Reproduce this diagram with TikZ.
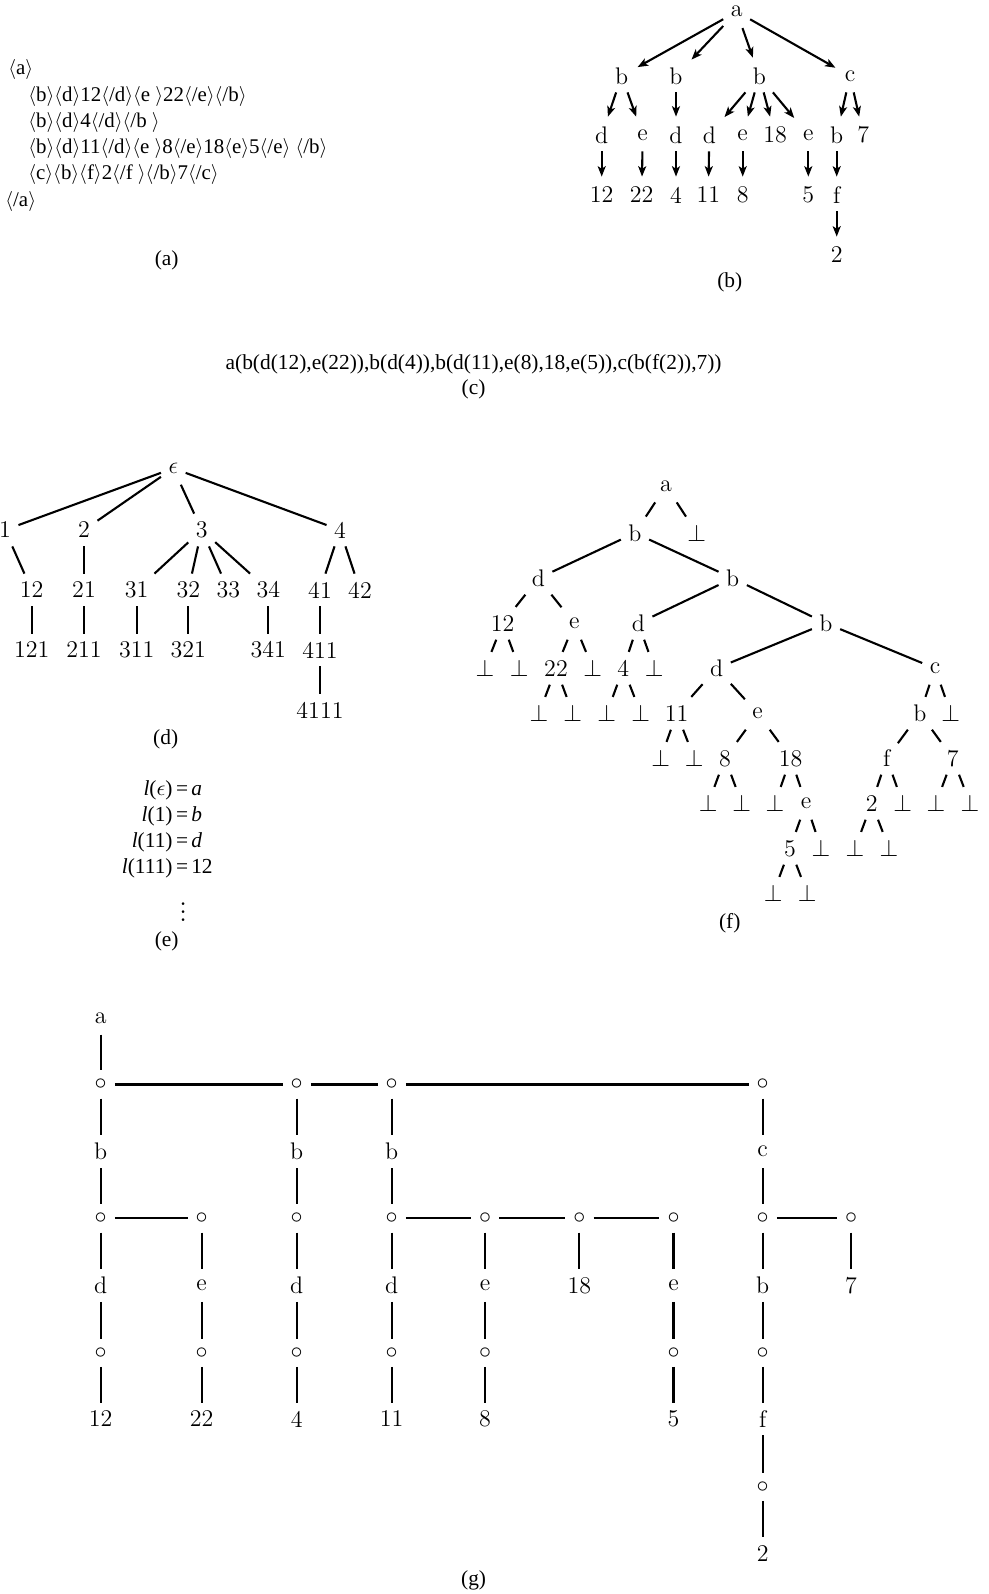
\documentclass[tikz,border=0pt]{standalone}
\usepackage{fontspec}
\newfontfamily\tms{Liberation Serif}
\usetikzlibrary{arrows.meta}
\newcommand{\lA}{$\langle$}
\newcommand{\rA}{$\rangle$}
\tikzset{
  tn/.style={font=\fontsize{12}{14}\selectfont, inner xsep=3.6pt, inner ysep=0pt, minimum height=16pt},
  cn/.style={font=\fontsize{12}{14}\selectfont, inner sep=0pt, minimum size=13.8pt},
  tx/.style={font=\tms\fontsize{10.7}{13}\selectfont, inner sep=0pt},
  ta/.style={font=\tms\fontsize{10.45}{13}\selectfont, inner sep=0pt},
  edge/.style={line width=1.05pt},
  arr/.style={line width=1.05pt, -{Stealth[length=5.2pt,width=4pt,inset=1.3pt]}, shorten >=1pt}
}
\begin{document}
\begin{tikzpicture}[x=0.5pt,y=-0.5pt]
\useasboundingbox (0,0) rectangle (989,1594);

% ---------------- (a)
\node[ta, anchor=west] (A1) at (8,70) {\lA a\rA};
\node[ta, anchor=west] (A2) at (28,96.7) {\lA b\rA\lA d\rA 12\lA /d\rA\lA e \rA 22\lA /e\rA\lA /b\rA};
\node[ta, anchor=west] (A3) at (28,122.5) {\lA b\rA\lA d\rA 4\lA /d\rA\lA /b \rA};
\node[ta, anchor=west] (A4) at (28,148.5) {\lA b\rA\lA d\rA 11\lA /d\rA\lA e \rA 8\lA /e\rA 18\lA e\rA 5\lA /e\rA{} \lA /b\rA};
\node[ta, anchor=west] (A5) at (28,175) {\lA c\rA\lA b\rA\lA f\rA 2\lA /f \rA\lA /b\rA 7\lA /c\rA};
\node[ta, anchor=west] (A6) at (5,201.7) {\lA /a\rA};
\node[tx] (capA) at (166.7,260) {(a)};

% ---------------- (b)
\node[tn] (Ba) at (736.7,11.7) {a};
\node[tn] (Bb1) at (621.7,76) {b};
\node[tn] (Bb2) at (676,76) {b};
\node[tn] (Bb3) at (759.3,76) {b};
\node[tn] (Bc) at (850,76) {c};
\node[tn] (Bd1) at (601.7,135) {d};
\node[tn] (Be1) at (642.7,135) {e};
\node[tn] (Bd2) at (676,135) {d};
\node[tn] (Bd3) at (709.3,135) {d};
\node[tn] (Be2) at (742.7,135) {e};
\node[tn] (B18) at (775,135) {18};
\node[tn] (Be3) at (808.3,135) {e};
\node[tn] (Bb4) at (836.7,135) {b};
\node[tn] (B7) at (863.3,135) {7};
\node[tn] (B12) at (601.7,195) {12};
\node[tn] (B22) at (641.7,195) {22};
\node[tn] (B4) at (676,195) {4};
\node[tn] (B11) at (708.3,195) {11};
\node[tn] (B8) at (742.7,195) {8};
\node[tn] (B5) at (808.3,195) {5};
\node[tn] (Bf) at (836.7,195) {f};
\node[tn] (B2) at (836.7,255) {2};
\foreach \p/\c in {Ba/Bb1,Ba/Bb2,Ba/Bb3,Ba/Bc,Bb1/Bd1,Bb1/Be1,Bb2/Bd2,Bb3/Bd3,Bb3/Be2,Bb3/B18,Bb3/Be3,Bc/Bb4,Bc/B7,Bd1/B12,Be1/B22,Bd2/B4,Bd3/B11,Be2/B8,Be3/B5,Bb4/Bf,Bf/B2}
  \draw[arr] (\p) -- (\c);
\node[tx] (capB) at (729.8,282.6) {(b)};

% ---------------- (c)
\node[tx] (C) at (473.6,363.9) {a(b(d(12),e(22)),b(d(4)),b(d(11),e(8),18,e(5)),c(b(f(2)),7))};
\node[tx] (capC) at (473.6,389.3) {(c)};

% ---------------- (d)
\node[tn] (Deps) at (173.3,468.3) {$\epsilon$};
\node[tn] (D1) at (5,530) {1};
\node[tn] (D2) at (84,530) {2};
\node[tn] (D3) at (201.7,530) {3};
\node[tn] (D4) at (340,530) {4};
\node[tn] (D12) at (31.7,590) {12};
\node[tn] (D21) at (84,590) {21};
\node[tn] (D31) at (136.7,590) {31};
\node[tn] (D32) at (188.3,590) {32};
\node[tn] (D33) at (228.3,590) {33};
\node[tn] (D34) at (268.3,590) {34};
\node[tn] (D41) at (320,590) {41};
\node[tn] (D42) at (360,590) {42};
\node[tn] (D121) at (31.7,650) {121};
\node[tn] (D211) at (84,650) {211};
\node[tn] (D311) at (136.7,650) {311};
\node[tn] (D321) at (188.3,650) {321};
\node[tn] (D341) at (268.3,650) {341};
\node[tn] (D411) at (320,650) {411};
\node[tn] (D4111) at (320,710) {4111};
\foreach \p/\c in {Deps/D1,Deps/D2,Deps/D3,Deps/D4,D1/D12,D2/D21,D3/D31,D3/D32,D3/D33,D3/D34,D4/D41,D4/D42,D12/D121,D21/D211,D31/D311,D32/D321,D34/D341,D41/D411,D411/D4111}
  \draw[edge] (\p) -- (\c);
\node[tx] (capD) at (165.7,739) {(d)};

% ---------------- (e)
\node[tx, anchor=base east] (E1l) at (173,795) {\textit{l}($\epsilon$)};
\node[tx, anchor=base west] (E1r) at (175.8,795) {=\hspace{1.5pt}\textit{a}};
\node[tx, anchor=base east] (E2l) at (173,821) {\textit{l}(1)};
\node[tx, anchor=base west] (E2r) at (175.8,821) {=\hspace{1.5pt}\textit{b}};
\node[tx, anchor=base east] (E3l) at (173,847) {\textit{l}(11)};
\node[tx, anchor=base west] (E3r) at (175.8,847) {=\hspace{1.5pt}\textit{d}};
\node[tx, anchor=base east] (E4l) at (173,873) {\textit{l}(111)};
\node[tx, anchor=base west] (E4r) at (175.8,873) {=\hspace{1.5pt}12};
\node[tx, font=\fontsize{14}{16}\selectfont] (Edots) at (183.3,906) {$\vdots$};
\node[tx] (capE) at (166.7,941.7) {(e)};

% ---------------- (f)
\node[tn] (Fa) at (666,486) {a};
\node[tn] (Fb1) at (635,533) {b};
\node[tn] (Fx1) at (696.7,533) {$\bot$};
\node[tn] (Fd1) at (538.3,578.3) {d};
\node[tn] (Fb2) at (732.7,578.3) {b};
\node[tn] (F12) at (502.7,623.3) {12};
\node[tn] (Fe1) at (574.3,623.3) {e};
\node[tn] (Fd2) at (638.3,623.3) {d};
\node[tn] (Fb3) at (826,623.3) {b};
\node[tn] (Fx2) at (485,668.3) {$\bot$};
\node[tn] (Fx3) at (519.3,668.3) {$\bot$};
\node[tn] (F22) at (556,668.3) {22};
\node[tn] (Fx4) at (592.7,668.3) {$\bot$};
\node[tn] (F4) at (623.3,668.3) {4};
\node[tn] (Fx5) at (654.3,668.3) {$\bot$};
\node[tn] (Fd3) at (716.7,668.3) {d};
\node[tn] (Fc) at (935,668.3) {c};
\node[tn] (Fx6) at (539,713.3) {$\bot$};
\node[tn] (Fx7) at (572.7,713.3) {$\bot$};
\node[tn] (Fx8) at (606.7,713.3) {$\bot$};
\node[tn] (Fx9) at (640.7,713.3) {$\bot$};
\node[tn] (F11) at (676.7,713.3) {11};
\node[tn] (Fe2) at (757.7,713.3) {e};
\node[tn] (Fb4) at (920,713.3) {b};
\node[tn] (Fx10) at (950.7,713.3) {$\bot$};
\node[tn] (Fx11) at (660.7,758.3) {$\bot$};
\node[tn] (Fx12) at (694.3,758.3) {$\bot$};
\node[tn] (F8) at (725,758.3) {8};
\node[tn] (F18) at (790.7,758.3) {18};
\node[tn] (Ff) at (886.7,758.3) {f};
\node[tn] (F7) at (952.7,758.3) {7};
\node[tn] (Fx13) at (708.3,803.3) {$\bot$};
\node[tn] (Fx14) at (741.7,803.3) {$\bot$};
\node[tn] (Fx15) at (775,803.3) {$\bot$};
\node[tn] (Fe3) at (806,803.3) {e};
\node[tn] (F2) at (871.7,803.3) {2};
\node[tn] (Fx16) at (902.7,803.3) {$\bot$};
\node[tn] (Fx17) at (936,803.3) {$\bot$};
\node[tn] (Fx18) at (970,803.3) {$\bot$};
\node[tn] (F5) at (790,848.3) {5};
\node[tn] (Fx19) at (821,848.3) {$\bot$};
\node[tn] (Fx20) at (855,848.3) {$\bot$};
\node[tn] (Fx21) at (889,848.3) {$\bot$};
\node[tn] (Fx22) at (773.3,893.3) {$\bot$};
\node[tn] (Fx23) at (807.3,893.3) {$\bot$};
\foreach \p/\c in {Fa/Fb1,Fa/Fx1,Fb1/Fd1,Fb1/Fb2,Fd1/F12,Fd1/Fe1,F12/Fx2,F12/Fx3,Fe1/F22,Fe1/Fx4,F22/Fx6,F22/Fx7,Fb2/Fd2,Fb2/Fb3,Fd2/F4,Fd2/Fx5,F4/Fx8,F4/Fx9,Fb3/Fd3,Fb3/Fc,Fd3/F11,Fd3/Fe2,F11/Fx11,F11/Fx12,Fe2/F8,Fe2/F18,F8/Fx13,F8/Fx14,F18/Fx15,F18/Fe3,Fe3/F5,Fe3/Fx19,F5/Fx22,F5/Fx23,Fc/Fb4,Fc/Fx10,Fb4/Ff,Fb4/F7,Ff/F2,Ff/Fx16,F2/Fx20,F2/Fx21,F7/Fx17,F7/Fx18}
  \draw[edge] (\p) -- (\c);
\node[tx] (capF) at (729.8,923) {(f)};

% ---------------- (g)
% column 1
\node[tn] (G10) at (100.7,1018.3) {a};
\node[cn] (G11) at (100.7,1084.5) {$\circ$};
\node[tn] (G12) at (100.7,1151.7) {b};
\node[cn] (G13) at (100.7,1218.3) {$\circ$};
\node[tn] (G14) at (100.7,1285.5) {d};
\node[cn] (G15) at (100.7,1352.7) {$\circ$};
\node[tn] (G16) at (100.7,1419) {12};
% column 2
\node[cn] (G23) at (201.7,1218.3) {$\circ$};
\node[tn] (G24) at (201.7,1285.5) {e};
\node[cn] (G25) at (201.7,1352.7) {$\circ$};
\node[tn] (G26) at (201.7,1419) {22};
% column 3
\node[cn] (G31) at (296.7,1084.5) {$\circ$};
\node[tn] (G32) at (296.7,1151.7) {b};
\node[cn] (G33) at (296.7,1218.3) {$\circ$};
\node[tn] (G34) at (296.7,1285.5) {d};
\node[cn] (G35) at (296.7,1352.7) {$\circ$};
\node[tn] (G36) at (296.7,1419) {4};
% column 4
\node[cn] (G41) at (391.7,1084.5) {$\circ$};
\node[tn] (G42) at (391.7,1151.7) {b};
\node[cn] (G43) at (391.7,1218.3) {$\circ$};
\node[tn] (G44) at (391.7,1285.5) {d};
\node[cn] (G45) at (391.7,1352.7) {$\circ$};
\node[tn] (G46) at (391.7,1419) {11};
% column 5
\node[cn] (G53) at (485,1218.3) {$\circ$};
\node[tn] (G54) at (485,1285.5) {e};
\node[cn] (G55) at (485,1352.7) {$\circ$};
\node[tn] (G56) at (485,1419) {8};
% column 6
\node[cn] (G63) at (579.3,1218.3) {$\circ$};
\node[tn] (G64) at (579.3,1285.5) {18};
% column 7
\node[cn] (G73) at (673.5,1218.3) {$\circ$};
\node[tn] (G74) at (673.5,1285.5) {e};
\node[cn] (G75) at (673.5,1352.7) {$\circ$};
\node[tn] (G76) at (673.5,1419) {5};
% column 8
\node[cn] (G81) at (762.7,1084.5) {$\circ$};
\node[tn] (G82) at (762.7,1151.7) {c};
\node[cn] (G83) at (762.7,1218.3) {$\circ$};
\node[tn] (G84) at (762.7,1285.5) {b};
\node[cn] (G85) at (762.7,1352.7) {$\circ$};
\node[tn] (G86) at (762.7,1419) {f};
\node[cn] (G87) at (762.7,1486.7) {$\circ$};
\node[tn] (G88) at (762.7,1553.3) {2};
% column 9
\node[cn] (G93) at (851,1218.3) {$\circ$};
\node[tn] (G94) at (851,1285.5) {7};
\foreach \p/\c in {G10/G11,G11/G12,G12/G13,G13/G14,G14/G15,G15/G16,
  G23/G24,G24/G25,G25/G26,
  G31/G32,G32/G33,G33/G34,G34/G35,G35/G36,
  G41/G42,G42/G43,G43/G44,G44/G45,G45/G46,
  G53/G54,G54/G55,G55/G56,
  G63/G64,
  G73/G74,G74/G75,G75/G76,
  G81/G82,G82/G83,G83/G84,G84/G85,G85/G86,G86/G87,G87/G88,
  G93/G94,
  G11/G31,G31/G41,G41/G81,G13/G23,G43/G53,G53/G63,G63/G73,G83/G93}
  \draw[edge] (\p) -- (\c);
\node[tx] (capG) at (473.6,1580.5) {(g)};
\end{tikzpicture}
\end{document}
